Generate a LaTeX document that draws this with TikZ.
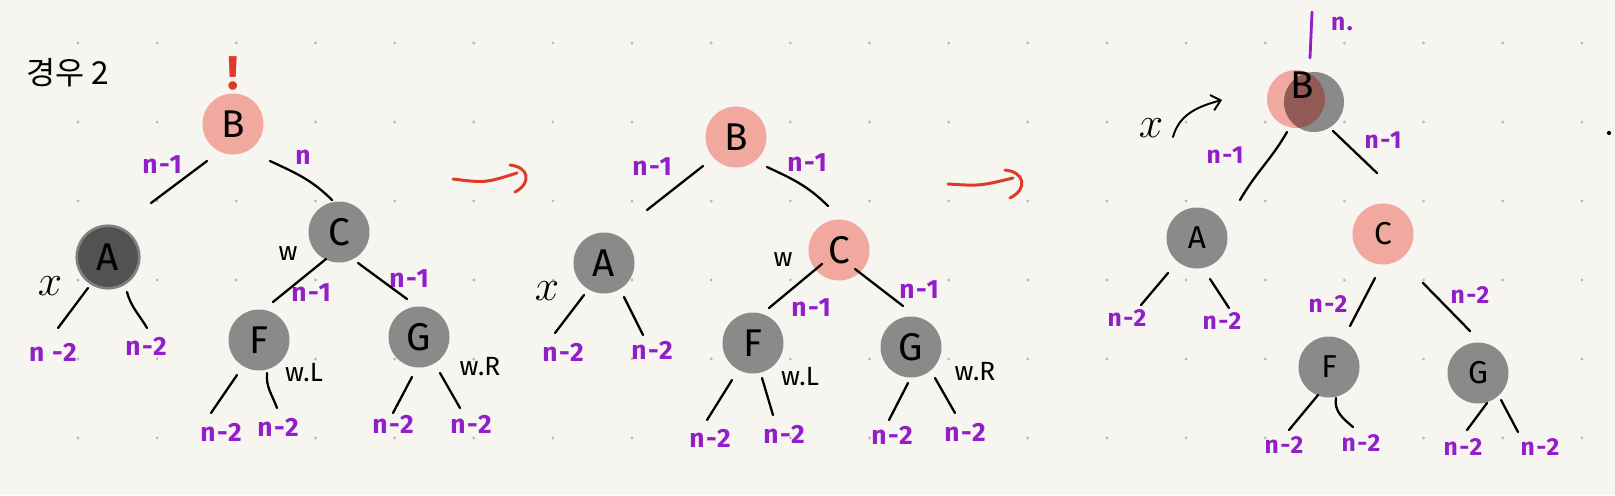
\documentclass[tikz,border=0pt]{standalone}
\usepackage{fontspec}
\setmainfont{Fira Sans}
\newfontfamily\krfont{Noto Sans CJK KR}
\newfontfamily\labfont[LetterSpace=6]{Fira Sans}
\usetikzlibrary{calc,arrows.meta}
\definecolor{paper}{RGB}{247,245,240}
\definecolor{dotc}{RGB}{185,185,180}
\definecolor{pinkc}{RGB}{241,168,158}
\definecolor{greyc}{RGB}{138,138,138}
\definecolor{darkc}{RGB}{82,82,82}
\definecolor{brownc}{RGB}{146,90,84}
\definecolor{purp}{RGB}{145,30,200}
\definecolor{redc}{RGB}{222,58,40}

\begin{document}
\begin{tikzpicture}[x=0.02cm,y=-0.02cm,
  nd/.style={circle,minimum size=1.22cm,inner sep=0pt,font=\fontsize{22}{22}\selectfont},
  rn/.style={nd,fill=pinkc},
  gn/.style={nd,fill=greyc},
  dn/.style={nd,fill=darkc,draw=gray,line width=1.5pt,minimum size=1.25cm},
  sn/.style={circle,minimum size=1.2cm,inner sep=0pt},
  lab/.style={text=purp,inner sep=0pt,font=\labfont\bfseries\fontsize{15}{15}\selectfont},
  slab/.style={lab,font=\labfont\bfseries\fontsize{14}{14}\selectfont},
  note/.style={inner sep=0pt,font=\fontsize{15}{15}\selectfont},
  xnote/.style={inner sep=0pt,font=\fontsize{28}{28}\selectfont},
  edge/.style={line width=1.3pt,line cap=round},
  redarr/.style={draw=redc,line width=1.7pt,line cap=round}]
\useasboundingbox (0,0) rectangle (1615,495);
\fill[paper] (0,0) rectangle (1615,495);
\foreach \i in {0,...,19}
  \foreach \j in {0,...,5}
    \fill[dotc] (78+\i*79.15, 43+\j*79) circle[radius=0.9pt];
\fill (1609,133) circle[radius=1.2pt];

% first tree
\node[font=\krfont\fontsize{18}{18}\selectfont] (title) at (68,73) {경우 2};
\node[text=redc,font=\bfseries\fontsize{27}{27}\selectfont] (warn) at (233,73) {!};
\node[rn] (B1) at (233,124) {B};
\node[dn,text=black] (A1) at (108,257) {A};
\node[gn] (C1) at (339,232) {C};
\node[gn] (F1) at (259,340) {F};
\node[gn] (G1) at (419,337) {G};
\node[lab] (l1a) at (162,165) {n-1};
\node[lab] (l1b) at (303,157) {n};
\node[lab] (l1c) at (311,293) {n-1};
\node[lab] (l1d) at (409,279) {n-1};
\node[lab] (a1l) at (53,352) {n -2};
\node[lab] (a1r) at (146,346) {n-2};
\node[lab] (f1l) at (221,432) {n-2};
\node[lab] (f1r) at (278,427) {n-2};
\node[lab] (g1l) at (393,424) {n-2};
\node[lab] (g1r) at (471,424) {n-2};
\node[xnote] (x1) at (50,286) {$x$};
\node[note] (w1) at (288,254) {w};
\node[note] (wl1) at (304,373) {w.L};
\node[note] (wr1) at (480,367) {w.R};
\draw[edge] ($(B1)+(-26,37)$) -- ($(A1)+(43,-54)$);
\draw[edge] ($(B1)+(37,37)$) to[out=-25,in=135] ($(C1)+(-7,-32)$);
\draw[edge] ($(C1)+(-13,27)$) -- ($(F1)+(14,-38)$);
\draw[edge] ($(C1)+(19,31)$) -- ($(G1)+(-12,-38)$);
\draw[edge] ($(A1)+(-20,31)$) -- ($(a1l)+(5,-24)$);
\draw[edge] ($(A1)+(19,35)$) to[out=-75,in=120] ($(a1r)+(1,-18)$);
\draw[edge] ($(F1)+(-22,35)$) -- ($(f1l)+(-10,-19)$);
\draw[edge] ($(F1)+(8,33)$) to[out=-95,in=110] ($(f1r)+(-1,-19)$);
\draw[edge] ($(G1)+(-7,40)$) -- ($(g1l)+(0,-11)$);
\draw[edge] ($(G1)+(21,36)$) -- ($(g1r)+(-11,-16)$);

\coordinate (r1a) at (453,179);
\coordinate (r1b) at (517,173);
\draw[redarr] (r1a) .. controls (485,183) .. (r1b);
\draw[redarr] ($(r1b)+(-7,-8)$) .. controls ($(r1b)+(12,-6)$) and ($(r1b)+(15,10)$) .. ($(r1b)+(-2,19)$);

% second tree
\node[rn] (B2) at (736,137) {B};
\node[gn] (A2) at (604,263) {A};
\node[rn] (C2) at (839,250) {C};
\node[gn] (F2) at (753,343) {F};
\node[gn] (G2) at (911,347) {G};
\node[lab] (l2a) at (652,167) {n-1};
\node[lab] (l2b) at (807,163) {n-1};
\node[lab] (l2c) at (811,308) {n-1};
\node[lab] (l2d) at (919,290) {n-1};
\node[lab] (a2l) at (563,352) {n-2};
\node[lab] (a2r) at (652,350) {n-2};
\node[lab] (f2l) at (710,438) {n-2};
\node[lab] (f2r) at (784,434) {n-2};
\node[lab] (g2l) at (892,435) {n-2};
\node[lab] (g2r) at (965,432) {n-2};
\node[xnote] (x2) at (547,291) {$x$};
\node[note] (w2) at (783,260) {w};
\node[note] (wl2) at (800,377) {w.L};
\node[note] (wr2) at (975,372) {w.R};
\draw[edge] ($(B2)+(-33,29)$) -- ($(A2)+(43,-53)$);
\draw[edge] ($(B2)+(31,30)$) to[out=-25,in=135] ($(C2)+(-11,-44)$);
\draw[edge] ($(C2)+(-17,14)$) -- ($(F2)+(16,-35)$);
\draw[edge] ($(C2)+(16,19)$) -- ($(G2)+(-8,-41)$);
\draw[edge] ($(A2)+(-20,32)$) -- ($(a2l)+(-8,-19)$);
\draw[edge] ($(A2)+(20,34)$) -- ($(a2r)+(-9,-15)$);
\draw[edge] ($(F2)+(-21,37)$) -- ($(f2l)+(-3,-18)$);
\draw[edge] ($(F2)+(9,35)$) -- ($(f2r)+(-11,-19)$);
\draw[edge] ($(G2)+(-3,36)$) -- ($(g2l)+(-3,-15)$);
\draw[edge] ($(G2)+(24,31)$) -- ($(g2r)+(-10,-19)$);

\coordinate (r2a) at (948,184);
\coordinate (r2b) at (1013,178);
\draw[redarr] (r2a) .. controls (980,186) .. (r2b);
\draw[redarr] ($(r2b)+(-8,-8)$) .. controls ($(r2b)+(12,-6)$) and ($(r2b)+(15,11)$) .. ($(r2b)+(-3,20)$);

% third tree
\node[sn,fill=pinkc,minimum size=1.16cm] (B3) at (1296,99) {};
\node[sn,fill=greyc] (xB3) at (1314,102) {};
\begin{scope}
  \clip (B3.center) circle[radius=0.58cm];
  \fill[brownc] (xB3.center) circle[radius=0.6cm];
\end{scope}
\node[font=\fontsize{22}{22}\selectfont] (B3t) at ($(B3)+(6,-14)$) {B};
\node[gn,font=\fontsize{18}{18}\selectfont] (A3) at (1197,238) {A};
\node[rn,font=\fontsize{18}{18}\selectfont] (C3) at (1383,234) {C};
\node[gn,font=\fontsize{18}{18}\selectfont] (F3) at (1329,367) {F};
\node[gn,font=\fontsize{18}{18}\selectfont] (G3) at (1478,373) {G};
\node[slab] (top3) at (1342,24) {n.};
\node[slab] (l3a) at (1225,155) {n-1};
\node[slab] (l3b) at (1383,140) {n-1};
\node[slab] (l3c) at (1328,304) {n-2};
\node[slab] (l3d) at (1470,295) {n-2};
\node[slab] (a3l) at (1127,318) {n-2};
\node[slab] (a3r) at (1222,321) {n-2};
\node[slab] (f3l) at (1284,445) {n-2};
\node[slab] (f3r) at (1361,443) {n-2};
\node[slab] (g3l) at (1463,447) {n-2};
\node[slab] (g3r) at (1540,447) {n-2};
\node[xnote] (x3) at (1151,128) {$x$};
\coordinate (t3) at (1312,12);
\draw[edge,draw=purp,line width=1.6pt] (t3) -- ($(xB3)+(-4,-44)$);
\draw[edge,line width=1.1pt,-{Straight Barb[length=5pt,width=9pt]}] ($(x3)+(22,9)$) to[out=75,in=195] ($(B3)+(-74,1)$);
\draw[edge] ($(B3)+(-9,33)$) to[out=-120,in=60] ($(A3)+(43,-38)$);
\draw[edge] ($(B3)+(37,32)$) -- ($(C3)+(-6,-61)$);
\draw[edge] ($(C3)+(-8,44)$) -- ($(F3)+(21,-41)$);
\draw[edge] ($(C3)+(40,49)$) -- ($(G3)+(-8,-42)$);
\draw[edge] ($(A3)+(-29,35)$) -- ($(a3l)+(14,-13)$);
\draw[edge] ($(A3)+(13,41)$) -- ($(a3r)+(7,-13)$);
\draw[edge] ($(F3)+(-11,28)$) -- ($(f3l)+(5,-15)$);
\draw[edge] ($(F3)+(7,31)$) to[out=-100,in=140] ($(f3r)+(-8,-16)$);
\draw[edge] ($(G3)+(9,30)$) -- ($(g3l)+(4,-17)$);
\draw[edge] ($(G3)+(23,27)$) -- ($(g3r)+(-22,-15)$);
\end{tikzpicture}
\end{document}
